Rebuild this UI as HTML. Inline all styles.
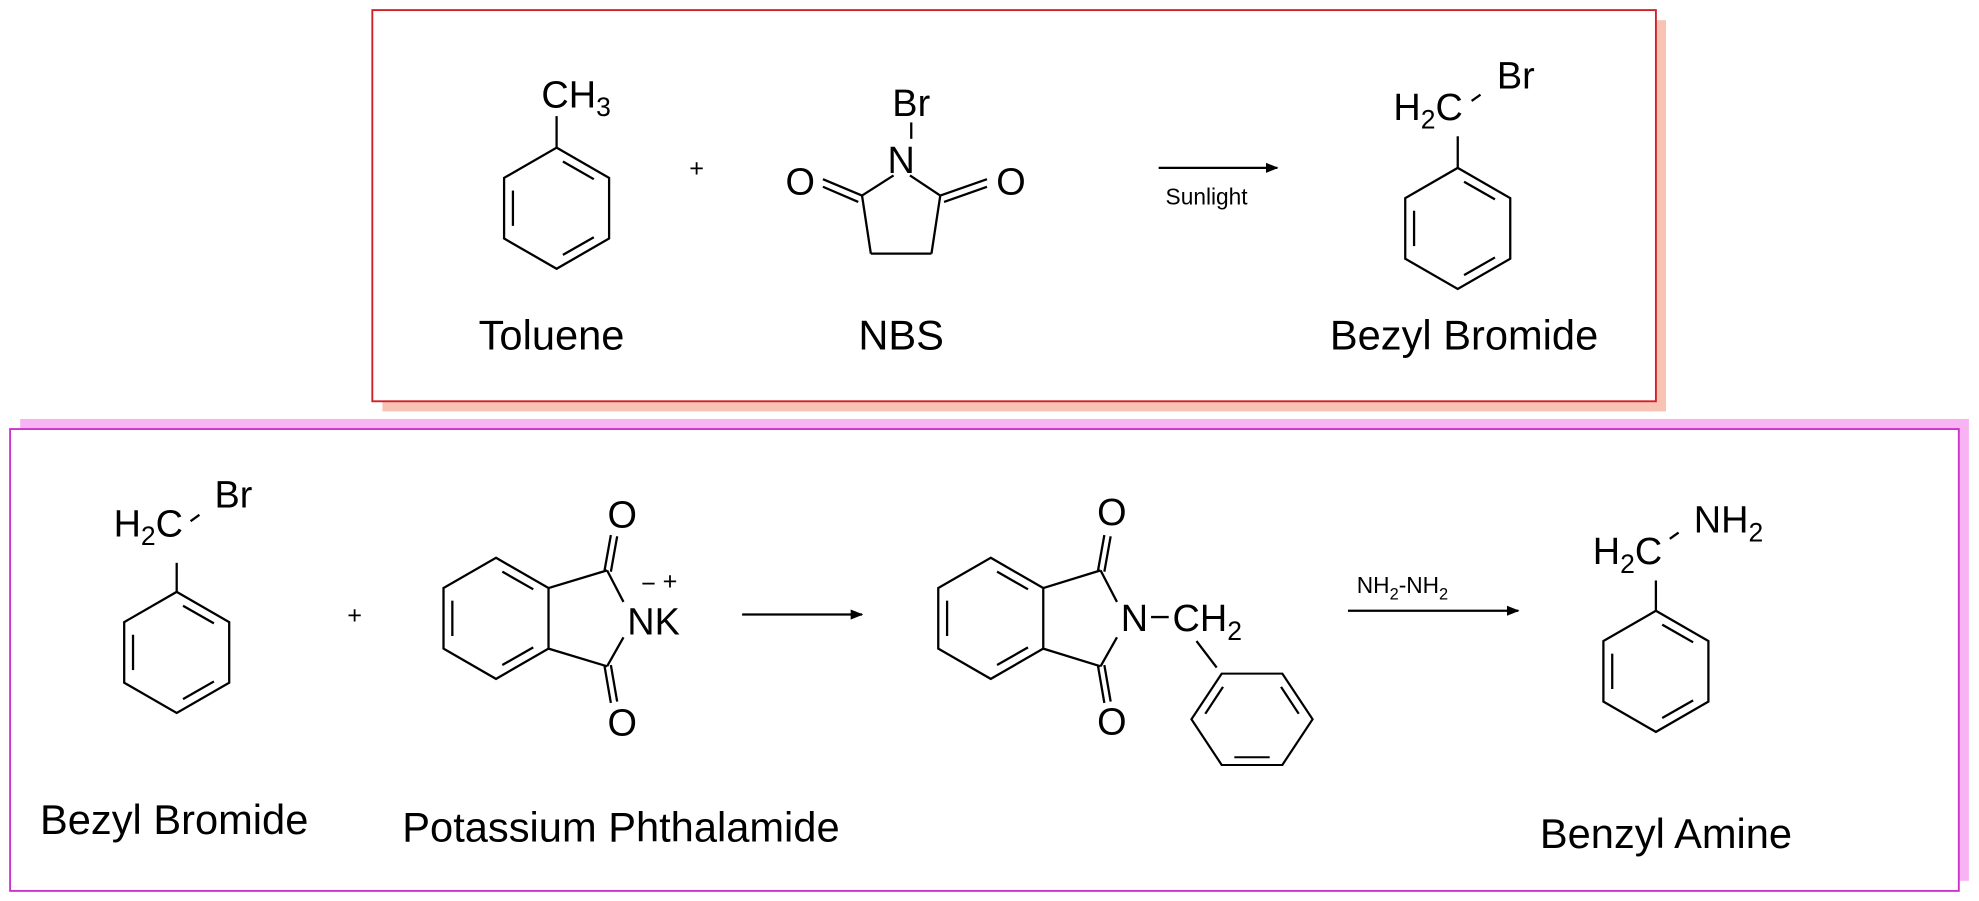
<!DOCTYPE html>
<html><head><meta charset="utf-8"><style>
html,body{margin:0;padding:0;background:#fff;}
svg{display:block;}
text{font-family:"Liberation Sans",Arial,sans-serif;fill:#000;}
</style></head><body>
<svg width="1979" height="901" viewBox="0 0 1568 714" preserveAspectRatio="none" xmlns="http://www.w3.org/2000/svg">
<defs>
<g id="bz" fill="none" stroke="#000" stroke-width="1.8">
<polygon points="0,-48 41.6,-24 41.6,24 0,48 -41.6,24 -41.6,-24"/>
<line x1="5" y1="-37" x2="29.5" y2="-23"/>
<line x1="29.5" y1="23" x2="5" y2="37"/>
<line x1="-34.6" y1="-14" x2="-34.6" y2="14"/>
</g>
<marker id="ah" markerWidth="10" markerHeight="8" refX="9" refY="4" orient="auto" markerUnits="userSpaceOnUse">
<polygon points="0,0 10,4 0,8" fill="#000"/>
</marker>
</defs>
<rect x="303" y="16" width="1017" height="310" fill="#f9c3b3"/>
<rect x="295" y="8" width="1017" height="310" fill="#fff" stroke="#d0202a" stroke-width="1.5"/>
<rect x="16" y="332" width="1544" height="366" fill="#f7b3f2"/>
<rect x="8" y="340" width="1544" height="366" fill="#fff" stroke="#cc33cc" stroke-width="1.5"/>

<g stroke="#000" stroke-width="1.8" fill="none">
<use href="#bz" x="441" y="165"/>
<line x1="441" y1="117" x2="441" y2="92"/>
<line x1="722" y1="97" x2="722" y2="110"/>
<line x1="708" y1="139" x2="683" y2="155"/>
<line x1="721" y1="139" x2="745" y2="155"/>
<line x1="683" y1="155" x2="690" y2="201"/>
<line x1="745" y1="155" x2="738" y2="201"/>
<line x1="690" y1="201" x2="738" y2="201"/>
<line x1="683" y1="155" x2="652" y2="142"/>
<line x1="680" y1="160" x2="652" y2="148"/>
<line x1="745" y1="155" x2="782" y2="142"/>
<line x1="748" y1="160" x2="782" y2="148"/>
<line x1="918" y1="133" x2="1012" y2="133" marker-end="url(#ah)"/>
<use href="#bz" x="1155" y="181"/>
<line x1="1155" y1="133" x2="1155" y2="108"/>
<line x1="1166" y1="80" x2="1173" y2="75"/>
<use href="#bz" x="140" y="517"/>
<line x1="140" y1="469" x2="140" y2="446"/>
<line x1="151" y1="413" x2="158" y2="408"/>
<use href="#bz" x="393" y="490"/>
<line x1="434.6" y1="466" x2="481" y2="452"/>
<line x1="434.6" y1="514" x2="481" y2="528"/>
<line x1="481" y1="452" x2="494" y2="477"/>
<line x1="481" y1="528" x2="494" y2="505"/>
<line x1="479" y1="452" x2="484" y2="424"/>
<line x1="484" y1="453" x2="489" y2="425"/>
<line x1="479" y1="528" x2="484" y2="557"/>
<line x1="484" y1="527" x2="489" y2="556"/>
<line x1="588" y1="487" x2="683" y2="487" marker-end="url(#ah)"/>
<use href="#bz" x="785" y="490"/>
<line x1="826.6" y1="466" x2="872" y2="452"/>
<line x1="826.6" y1="514" x2="872" y2="528"/>
<line x1="872" y1="452" x2="885" y2="477"/>
<line x1="872" y1="528" x2="885" y2="505"/>
<line x1="870" y1="452" x2="875" y2="424"/>
<line x1="875" y1="453" x2="880" y2="425"/>
<line x1="870" y1="528" x2="875" y2="557"/>
<line x1="875" y1="527" x2="880" y2="556"/>
<line x1="948" y1="508" x2="964" y2="529"/>
<g transform="translate(992,570) scale(1,0.87) rotate(-90)"><use href="#bz"/></g>
<line x1="1068" y1="484" x2="1203" y2="484" marker-end="url(#ah)"/>
<use href="#bz" x="1312" y="532"/>
<line x1="1312" y1="484" x2="1312" y2="460"/>
<line x1="1323" y1="427" x2="1330" y2="422"/>
</g>

<g font-size="30">
<text x="429" y="85">CH<tspan font-size="21" dy="7">3</tspan></text>
<text x="722" y="92" text-anchor="middle">Br</text>
<text x="714" y="137" text-anchor="middle">N</text>
<text x="634" y="154" text-anchor="middle">O</text>
<text x="801" y="154" text-anchor="middle">O</text>
<text x="1104" y="95">H<tspan font-size="21" dy="7">2</tspan><tspan dy="-7">C</tspan></text>
<text x="1186" y="70">Br</text>
<text x="90" y="425">H<tspan font-size="21" dy="7">2</tspan><tspan dy="-7">C</tspan></text>
<text x="170" y="402">Br</text>
<text x="493" y="418" text-anchor="middle">O</text>
<text x="493" y="583" text-anchor="middle">O</text>
<text x="497" y="503">NK</text>
<text x="881" y="416" text-anchor="middle">O</text>
<text x="881" y="582" text-anchor="middle">O</text>
<text x="888" y="500">N</text>
<text x="929" y="500">CH<tspan font-size="21" dy="7">2</tspan></text>
<text x="1262" y="447">H<tspan font-size="21" dy="7">2</tspan><tspan dy="-7">C</tspan></text>
<text x="1342" y="422">NH<tspan font-size="21" dy="7">2</tspan></text>
</g>
<line x1="912" y1="489" x2="926" y2="489" stroke="#000" stroke-width="1.8"/>
<text x="508" y="469" font-size="20">−</text>
<text x="525" y="467" font-size="20">+</text>
<text x="552" y="140" font-size="20" text-anchor="middle">+</text>
<text x="281" y="494" font-size="20" text-anchor="middle">+</text>
<text x="956" y="162" font-size="18" text-anchor="middle">Sunlight</text>
<text x="1075" y="470" font-size="18">NH<tspan font-size="13" dy="5">2</tspan><tspan dy="-5">-NH</tspan><tspan font-size="13" dy="5">2</tspan></text>
<g font-size="33" text-anchor="middle">
<text x="437" y="277">Toluene</text>
<text x="714" y="277">NBS</text>
<text x="1160" y="277">Bezyl Bromide</text>
<text x="138" y="661">Bezyl Bromide</text>
<text x="492" y="667">Potassium Phthalamide</text>
<text x="1320" y="672">Benzyl Amine</text>
</g>
</svg>
</body></html>
